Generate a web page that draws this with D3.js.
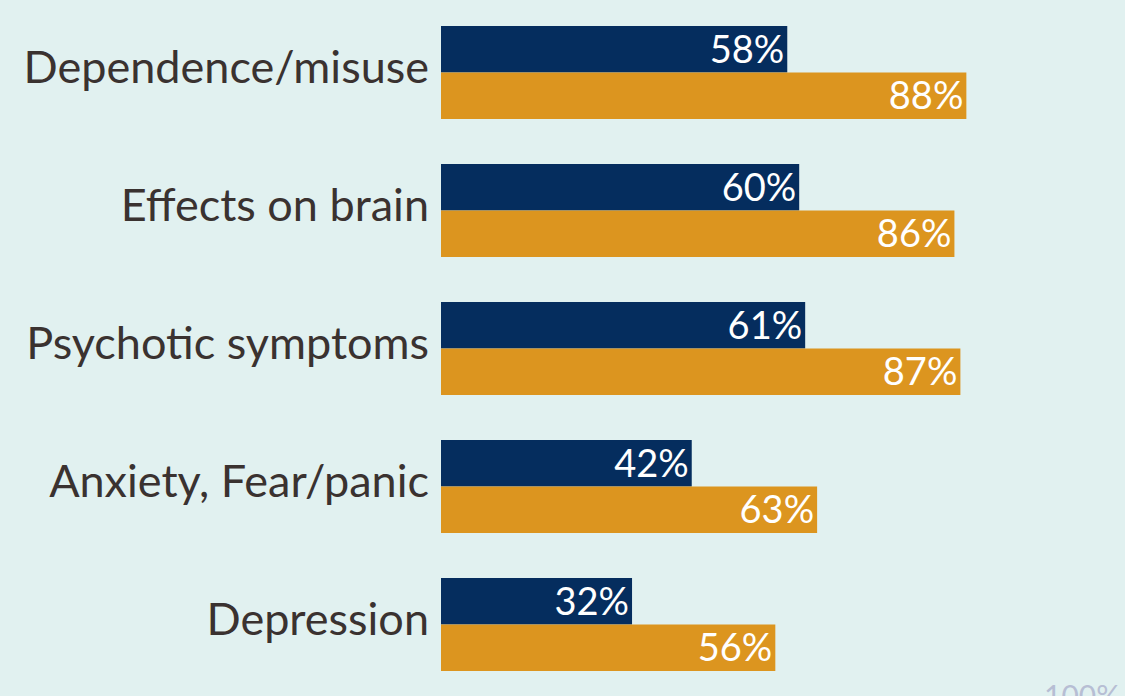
<!DOCTYPE html>
<meta charset="utf-8">
<style>
body { margin: 0; background: #e1f1f0; }
svg { display: block; }
.cat { font-family: Lato, sans-serif; font-size: 45px; fill: #3a3230; }
.val { font-family: Lato, sans-serif; font-size: 38px; fill: #ffffff; }
.tick100 { font-family: Lato, sans-serif; font-size: 30px; fill: #b7bed4; }
</style>
<body>
<svg id="chart"></svg>
<script src="https://cdn.jsdelivr.net/npm/d3@7"></script>
<script>

// data
var categories = ["Dependence/misuse", "Effects on brain", "Psychotic symptoms", "Anxiety, Fear/panic", "Depression"];
var seriesA = [58, 60, 61, 42, 32];   // navy
var seriesB = [88, 86, 87, 63, 56];   // orange
var seriesNames = ["A", "B"];
var colors = ["#052d5e", "#dc951f"];

var width = 1125, height = 696;

var svg = d3.select("#chart")
    .attr("width", width)
    .attr("height", height);

svg.append("rect")
    .attr("width", width)
    .attr("height", height)
    .attr("fill", "#e1f1f0");

// scales
var x = d3.scaleLinear().domain([0, 100]).range([441, 1038]);
var y = d3.scaleBand().domain(categories).range([26, 671]).paddingInner(45 / 138);
var y1 = d3.scaleBand().domain(seriesNames).range([0, y.bandwidth()]);

var rows = categories.map(function(c, i) {
  return { cat: c, vals: [
    { key: "A", v: seriesA[i], color: colors[0] },
    { key: "B", v: seriesB[i], color: colors[1] }
  ]};
});

var g = svg.selectAll(".row")
    .data(rows)
  .enter().append("g")
    .attr("class", "row")
    .attr("transform", function(d) { return "translate(0," + y(d.cat) + ")"; });

g.selectAll("rect")
    .data(function(d) { return d.vals; })
  .enter().append("rect")
    .attr("x", x(0))
    .attr("y", function(d) { return y1(d.key); })
    .attr("width", function(d) { return x(d.v) - x(0); })
    .attr("height", y1.bandwidth())
    .attr("fill", function(d) { return d.color; });

g.selectAll(".val")
    .data(function(d) { return d.vals; })
  .enter().append("text")
    .attr("class", "val")
    .attr("x", function(d) { return x(d.v) - 3; })
    .attr("y", function(d) { return y1(d.key) + y1.bandwidth() / 2; })
    .attr("dy", "0.36em")
    .attr("text-anchor", "end")
    .text(function(d) { return d.v + "%"; });

// category labels
g.append("text")
    .attr("class", "cat")
    .attr("x", 429)
    .attr("y", y.bandwidth() / 2)
    .attr("dy", "0.24em")
    .attr("text-anchor", "end")
    .text(function(d) { return d.cat; });

// partially visible axis label
svg.append("text")
    .attr("class", "tick100")
    .attr("x", 1044)
    .attr("y", 707)
    .text("100%");

</script>
</body>
